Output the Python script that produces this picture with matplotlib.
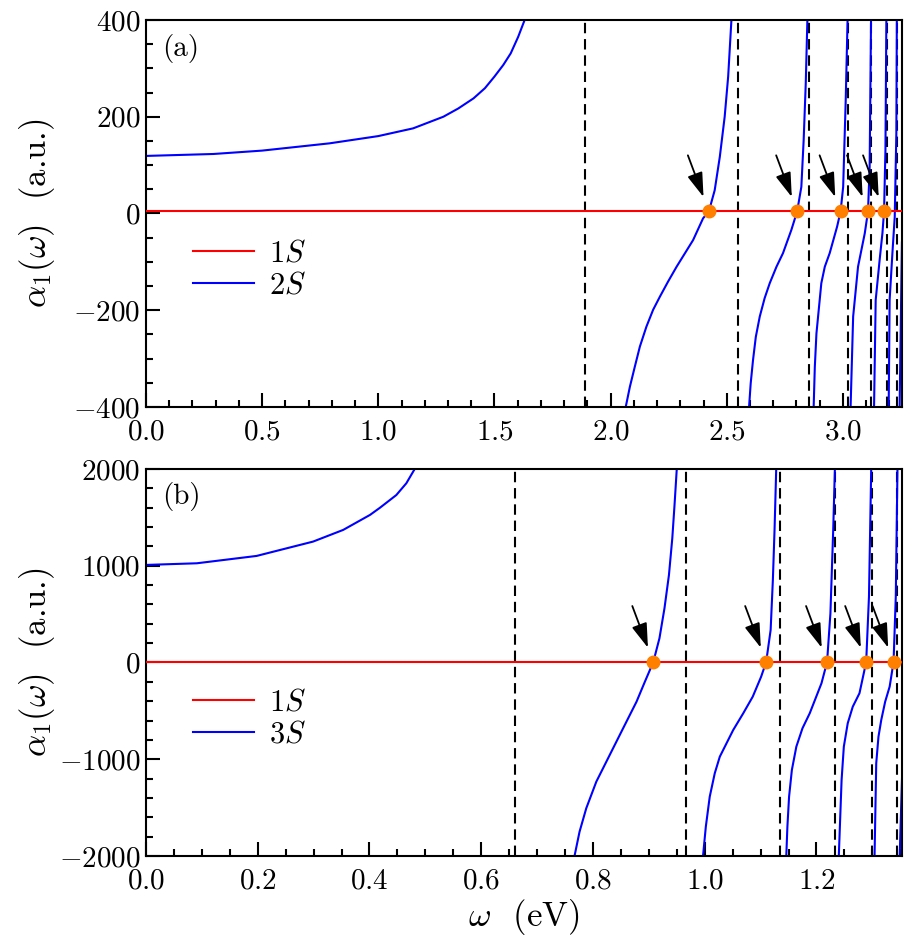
import matplotlib
matplotlib.use('Agg')
import matplotlib.pyplot as plt
from matplotlib.ticker import MultipleLocator

plt.rcParams['font.family'] = 'serif'
plt.rcParams['font.serif'] = ['cmr10']
plt.rcParams['mathtext.fontset'] = 'cm'
plt.rcParams['axes.formatter.use_mathtext'] = True
plt.rcParams['axes.linewidth'] = 1.5

# 1S polarizability (flat line)
alpha_1s = 4.5

# panel (a): 2S resonances and branches of alpha(omega)
a_poles = [1.889, 2.550, 2.856, 3.022, 3.122, 3.188, 3.233]
a_x1 = [0.0, 0.29, 0.50, 0.79, 1.00, 1.15, 1.28, 1.344, 1.41, 1.459, 1.50, 1.538, 1.57, 1.602, 1.63]
a_y1 = [119, 123, 130, 145, 160, 176, 200, 217, 238, 259, 283, 307, 331, 365, 400]
a_x2 = [2.065, 2.083, 2.104, 2.126, 2.154, 2.183, 2.212, 2.247, 2.284, 2.355, 2.398, 2.423,
        2.448, 2.470, 2.491, 2.506, 2.520]
a_y2 = [-400, -358, -317, -275, -234, -199, -172, -141, -110, -55, -10, 4.5,
        48, 117, 200, 283, 400]
a_x3 = [2.596, 2.603, 2.613, 2.625, 2.642, 2.663, 2.685, 2.714, 2.742, 2.778, 2.803, 2.821,
        2.831, 2.840, 2.847]
a_y3 = [-400, -351, -303, -255, -213, -175, -144, -110, -82, -34, 4.5, 55,
        152, 269, 400]
a_x4 = [2.874, 2.879, 2.886, 2.907, 2.922, 2.943, 2.975, 2.990, 3.001, 3.012, 3.020]
a_y4 = [-400, -317, -248, -144, -110, -82, -27, 4.5, 55, 234, 400]
a_x5 = [3.033, 3.044, 3.065, 3.094, 3.108, 3.115, 3.121]
a_y5 = [-400, -213, -110, -41, 4.5, 97, 400]
a_x6 = [3.134, 3.141, 3.158, 3.170, 3.177, 3.183, 3.187]
a_y6 = [-400, -179, -96, -41, 4.5, 131, 400]
a_x7 = [3.197, 3.201, 3.213, 3.223, 3.230, 3.232]
a_y7 = [-400, -179, -82, -7, 166, 400]
a_x8 = [3.244, 3.254]
a_y8 = [-400, -60]
a_magic = [2.423, 2.803, 2.990, 3.108, 3.177]

# panel (b): 3S
b_poles = [0.661, 0.967, 1.134, 1.234, 1.300, 1.344]
b_x1 = [0.0, 0.091, 0.198, 0.299, 0.353, 0.401, 0.419, 0.448, 0.466, 0.481]
b_y1 = [1008, 1025, 1101, 1249, 1370, 1525, 1600, 1730, 1852, 2000]
b_x2 = [0.767, 0.776, 0.788, 0.806, 0.830, 0.854, 0.878, 0.893, 0.908, 0.919, 0.928,
        0.936, 0.942, 0.946, 0.950]
b_y2 = [-2000, -1749, -1507, -1232, -956, -680, -405, -198, 4.5, 250, 560,
        904, 1284, 1628, 2000]
b_x3 = [0.997, 1.002, 1.009, 1.018, 1.027, 1.051, 1.069, 1.086, 1.101, 1.110, 1.118,
        1.122, 1.125, 1.128]
b_y3 = [-2000, -1697, -1387, -1145, -974, -698, -525, -353, -147, 4.5, 336,
        853, 1370, 2000]
b_x4 = [1.146, 1.148, 1.151, 1.156, 1.164, 1.175, 1.188, 1.209, 1.219, 1.225, 1.230, 1.233]
b_y4 = [-2000, -1697, -1387, -1111, -870, -680, -525, -215, 4.5, 508, 1370, 2000]
b_x5 = [1.240, 1.245, 1.249, 1.256, 1.265, 1.277, 1.289, 1.294, 1.298]
b_y5 = [-2000, -1214, -870, -628, -457, -318, 4.5, 680, 2000]
b_x6 = [1.304, 1.307, 1.311, 1.316, 1.323, 1.331, 1.338, 1.342, 1.345]
b_y6 = [-2000, -1042, -767, -594, -405, -250, 4.5, 680, 2000]
b_x7 = [1.349, 1.355]
b_y7 = [-2000, -835]
b_magic = [0.908, 1.110, 1.219, 1.289, 1.338]

panels = [
    dict(tag='(a)', state='$2S$', xmax=3.254, ylim=(-400, 400),
         xmaj=0.5, xmin=0.1, ymaj=200, ymin=50,
         branches=[(a_x1, a_y1), (a_x2, a_y2), (a_x3, a_y3), (a_x4, a_y4),
                   (a_x5, a_y5), (a_x6, a_y6), (a_x7, a_y7), (a_x8, a_y8)],
         poles=a_poles, magic=a_magic),
    dict(tag='(b)', state='$3S$', xmax=1.353, ylim=(-2000, 2000),
         xmaj=0.2, xmin=0.05, ymaj=1000, ymin=200,
         branches=[(b_x1, b_y1), (b_x2, b_y2), (b_x3, b_y3), (b_x4, b_y4),
                   (b_x5, b_y5), (b_x6, b_y6), (b_x7, b_y7)],
         poles=b_poles, magic=b_magic),
]

fig = plt.figure(figsize=(9.21, 9.51), dpi=100)
boxes = [[0.1585, 0.572, 0.8208, 0.407], [0.1585, 0.0999, 0.8208, 0.407]]

for box, p in zip(boxes, panels):
    ax = fig.add_axes(box)
    for i, (bx, by) in enumerate(p['branches']):
        ax.plot(bx, by, color='#0000ff', lw=1.5, label=p['state'] if i == 0 else None, zorder=2)
    ax.plot([0, p['xmax']], [alpha_1s, alpha_1s], color='#ff0000', lw=1.5, label='$1S$', zorder=3)
    for x in p['poles']:
        ax.axvline(x, color='k', lw=1.5, ls=(0, (5, 2.8)), zorder=1)
    ax.plot(p['magic'], [alpha_1s] * len(p['magic']), 'o', color='#ff8000', ms=9, zorder=4)
    for x in p['magic']:
        ax.annotate('', xy=(x, alpha_1s), xytext=(-21, 56), textcoords='offset pixels',
                    arrowprops=dict(arrowstyle='-|>,head_length=0.75,head_width=0.24',
                                    color='k', lw=1.3, mutation_scale=20,
                                    shrinkA=0, shrinkB=11))
    ax.set_xlim(0, p['xmax'])
    ax.set_ylim(*p['ylim'])
    ax.xaxis.set_major_locator(MultipleLocator(p['xmaj']))
    ax.xaxis.set_minor_locator(MultipleLocator(p['xmin']))
    ax.yaxis.set_major_locator(MultipleLocator(p['ymaj']))
    ax.yaxis.set_minor_locator(MultipleLocator(p['ymin']))
    ax.tick_params(which='both', direction='in', top=False, right=False, width=1.5, labelsize=21)
    ax.tick_params(which='major', length=10)
    ax.tick_params(which='minor', length=5)
    ax.tick_params(axis='x', pad=9)
    ax.tick_params(axis='y', pad=4)
    ax.set_ylabel(r'$\alpha_1(\omega)$  (a.u.)', fontsize=25)
    ax.yaxis.set_label_coords(-0.118, 0.5)
    ax.text(0.022, 0.965, p['tag'], transform=ax.transAxes, fontsize=21, ha='left', va='top')
    h, l = ax.get_legend_handles_labels()
    ax.legend([h[1], h[0]], [l[1], l[0]], loc='center left', bbox_to_anchor=(0.062, 0.354),
              frameon=False, fontsize=22, handlelength=2.0, handletextpad=0.5,
              labelspacing=0.15, borderpad=0, borderaxespad=0)
    if p['tag'] == '(b)':
        ax.set_xlabel(r'$\omega$  (eV)', fontsize=25)
        ax.xaxis.set_label_coords(0.5, -0.105)

fig.savefig('out.png', dpi=100)
